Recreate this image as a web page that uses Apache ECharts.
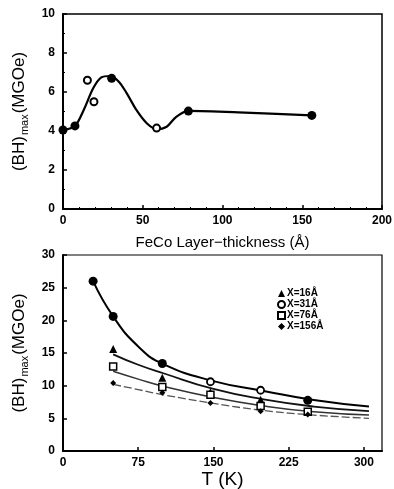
<!DOCTYPE html>
<html>
<head>
<meta charset="utf-8">
<script src="https://cdn.jsdelivr.net/npm/echarts@6/dist/echarts.min.js"></script>
<style>
  html, body { margin: 0; padding: 0; background: #fff; }
  #chart { width: 394px; height: 489px; }
</style>
</head>
<body>
<div id="chart"></div>
<script>
// top panel: (BH)max vs FeCo layer thickness
const thickFilled = [[0, 4.05], [7.5, 4.26], [30.5, 6.7], [78.6, 5.02], [156, 4.8]];
const thickOpen = [[15.3, 6.6], [19.4, 5.5], [58.7, 4.15]];
const thickCurve = [[0, 4.05], [7.5, 4.26], [13, 5.08], [19, 6.2], [24, 6.75], [29.5, 6.82], [35, 6.53], [40, 5.93], [46, 5.08], [52.5, 4.4], [58.7, 4.1], [65, 4.22], [71, 4.73], [78.6, 5.03], [110, 4.96], [156, 4.8]];
const thickTicks = [0, 50, 100, 150, 200];
const bhTopTicks = [0, 2, 4, 6, 8, 10];

// bottom panel: (BH)max vs T for several X
const tempPts = [30, 50, 99, 147, 197, 244];
const x16 = [null, 15.6, 11.2, 9.0, 7.85, null];
const x31 = [26.0, 20.6, 13.4, 10.6, 9.3, 7.75];
const x76 = [null, 12.95, 9.8, 8.6, 6.9, 6.0];
const x156 = [null, 10.4, 8.9, 7.35, 6.1, 5.6];
const fitT = [30, 50, 75, 100, 150, 200, 250, 305];
const fit31 = [26.0, 20.6, 16.0, 13.3, 10.7, 9.2, 7.8, 6.8];
const fit16 = [null, 14.8, 13.2, 11.9, 9.5, 7.9, 6.8, 6.1];
const fit76 = [null, 12.2, 11.0, 9.9, 8.2, 6.9, 6.0, 5.5];
const fit156 = [null, 10.2, 9.4, 8.6, 7.3, 6.2, 5.5, 5.0];
const tempTicks = [0, 75, 150, 225, 300];
const bhBotTicks = [0, 5, 10, 15, 20, 25, 30];
const legendNames = ['X=16Å', 'X=31Å', 'X=76Å', 'X=156Å'];
const legendIcons = ['triangle', 'emptyCircle', 'emptyRect', 'diamond'];
const openIdx31 = [3, 4];

const pairs = (xs, ys) => xs.map((x, i) => [x, ys[i]]).filter(p => p[1] != null);

const font = 'Liberation Sans, Arial, sans-serif';
const lbl = { color: '#000', fontFamily: font, fontWeight: 'bold', fontSize: 12 };
const yName = {
  rich: {
    a: { fontFamily: font, fontSize: 17, color: '#000', verticalAlign: 'top', lineHeight: 20 },
    b: { fontFamily: font, fontSize: 11, color: '#000', verticalAlign: 'bottom', lineHeight: 12, padding: [9, 1, 0, 1] }
  }
};
const axisLine = { show: true, lineStyle: { color: '#000', width: 2 } };
const openStyle = { color: '#fff', borderColor: '#000', borderWidth: 1.8, opacity: 1 };

const chart = echarts.init(document.getElementById('chart'), null, { renderer: 'canvas' });
chart.setOption({
  backgroundColor: '#fff',
  animation: false,
  grid: [
    { left: 63, top: 14, width: 319, height: 195, show: true, borderColor: '#000', borderWidth: 1.5, containLabel: false, outerBoundsMode: 'none' },
    { left: 63, top: 255, width: 319, height: 196, show: true, borderColor: '#000', borderWidth: 1.2, containLabel: false, outerBoundsMode: 'none' }
  ],
  legend: {
    data: legendNames.map((n, i) => ({
      name: n, icon: legendIcons[i],
      itemStyle: legendIcons[i].startsWith('empty') ? { color: '#000', borderColor: '#000', borderWidth: 1.5 } : { color: '#000' }
    })),
    orient: 'vertical',
    left: 272,
    top: 283,
    itemGap: 0,
    itemWidth: 7,
    itemHeight: 7,
    textStyle: { color: '#000', fontFamily: font, fontWeight: 'bold', fontSize: 10, lineHeight: 11, padding: [0, 0, 0, -3] }
  },
  xAxis: [
    {
      gridIndex: 0, type: 'value', min: 0, max: 200, interval: 50,
      name: 'FeCo Layer−thickness (Å)', nameLocation: 'middle', nameGap: 26,
      nameTextStyle: { fontFamily: font, fontSize: 15, color: '#000' },
      axisLine, axisTick: { inside: true, length: 4, lineStyle: { color: '#000', width: 1.5 } },
      minorTick: { show: true, splitNumber: 5, length: 2, lineStyle: { color: '#000' } },
      splitLine: { show: false },
      axisLabel: { ...lbl, margin: 6 }
    },
    {
      gridIndex: 1, type: 'value', min: 0, max: 318, interval: 75,
      name: 'T (K)', nameLocation: 'middle', nameGap: 17,
      nameTextStyle: { fontFamily: font, fontSize: 19, color: '#000' },
      axisLine, axisTick: { inside: true, length: 4, lineStyle: { color: '#000', width: 1.5 } },
      splitLine: { show: false },
      axisLabel: { ...lbl, margin: 6, showMaxLabel: false }
    }
  ],
  yAxis: [
    {
      gridIndex: 0, type: 'value', min: 0, max: 10, interval: 2,
      name: '{a|(BH)}{b|max}{a|(MGOe)}', nameLocation: 'middle', nameGap: 28, nameRotate: 90,
      nameTextStyle: yName,
      axisLine, axisTick: { inside: true, length: 4, lineStyle: { color: '#000', width: 1.5 } },
      minorTick: { show: true, splitNumber: 2, length: 2, lineStyle: { color: '#000' } },
      splitLine: { show: false },
      axisLabel: { ...lbl, margin: 8 }
    },
    {
      gridIndex: 1, type: 'value', min: 0, max: 30, interval: 5,
      name: '{a|(BH)}{b|max}{a|(MGOe)}', nameLocation: 'middle', nameGap: 28, nameRotate: 90,
      nameTextStyle: yName,
      axisLine, axisTick: { inside: true, length: 4, lineStyle: { color: '#000', width: 1.5 } },
      splitLine: { show: false },
      axisLabel: { ...lbl, margin: 8 }
    }
  ],
  series: [
    {
      name: 'curve', type: 'line', xAxisIndex: 0, yAxisIndex: 0, data: thickCurve,
      smooth: 0.3, showSymbol: false, lineStyle: { color: '#000', width: 2.2 }, z: 2
    },
    {
      name: 'filled', type: 'scatter', xAxisIndex: 0, yAxisIndex: 0, data: thickFilled,
      symbol: 'circle', symbolSize: 9, itemStyle: { color: '#000', opacity: 1 }, z: 3
    },
    {
      name: 'open', type: 'scatter', xAxisIndex: 0, yAxisIndex: 0, data: thickOpen,
      symbol: 'circle', symbolSize: 7, itemStyle: { ...openStyle, borderWidth: 2 }, z: 3
    },
    {
      name: 'fit31', type: 'line', xAxisIndex: 1, yAxisIndex: 1, data: pairs(fitT, fit31),
      smooth: 0.5, showSymbol: false, lineStyle: { color: '#000', width: 2 }, z: 2
    },
    {
      name: 'fit16', type: 'line', xAxisIndex: 1, yAxisIndex: 1, data: pairs(fitT, fit16),
      smooth: 0.5, showSymbol: false, lineStyle: { color: '#111', width: 1.8 }, z: 2
    },
    {
      name: 'fit76', type: 'line', xAxisIndex: 1, yAxisIndex: 1, data: pairs(fitT, fit76),
      smooth: 0.5, showSymbol: false, lineStyle: { color: '#333', width: 1.5 }, z: 2
    },
    {
      name: 'fit156', type: 'line', xAxisIndex: 1, yAxisIndex: 1, data: pairs(fitT, fit156),
      smooth: 0.5, showSymbol: false, lineStyle: { color: '#555', width: 1.3, type: [8, 3] }, z: 2
    },
    {
      name: legendNames[0], type: 'scatter', xAxisIndex: 1, yAxisIndex: 1, data: pairs(tempPts, x16),
      symbol: 'triangle', symbolSize: 8, itemStyle: { color: '#000', opacity: 1 }, z: 3
    },
    {
      name: legendNames[1], type: 'scatter', xAxisIndex: 1, yAxisIndex: 1,
      data: pairs(tempPts, x31).map((p, i) => openIdx31.includes(i)
        ? { value: p, itemStyle: openStyle, symbolSize: 7 }
        : { value: p }),
      symbol: 'circle', symbolSize: 9, itemStyle: { color: '#000', opacity: 1 }, z: 3
    },
    {
      name: legendNames[2], type: 'scatter', xAxisIndex: 1, yAxisIndex: 1, data: pairs(tempPts, x76),
      symbol: 'rect', symbolSize: 7, itemStyle: { ...openStyle, borderWidth: 1.5 }, z: 3
    },
    {
      name: legendNames[3], type: 'scatter', xAxisIndex: 1, yAxisIndex: 1, data: pairs(tempPts, x156),
      symbol: 'diamond', symbolSize: 6, itemStyle: { color: '#000', opacity: 1 }, z: 3
    }
  ]
});
</script>
</body>
</html>
